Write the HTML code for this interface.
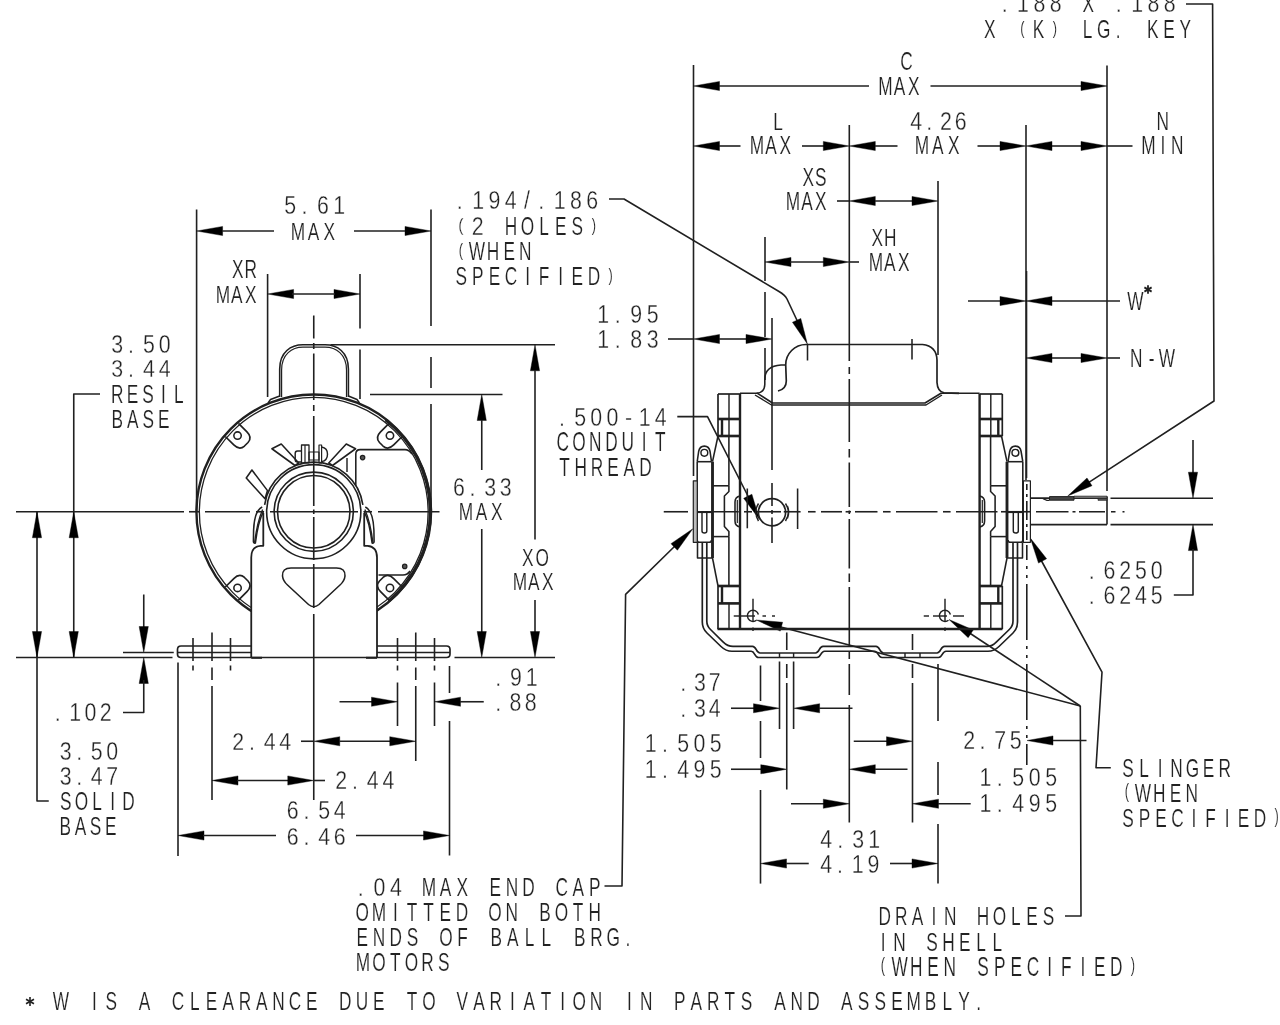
<!DOCTYPE html>
<html lang="en"><head><meta charset="utf-8"><title>Motor dimension drawing</title>
<style>
html,body{margin:0;padding:0;background:#fff}
body{width:1280px;height:1025px;overflow:hidden;font-family:"Liberation Sans",sans-serif}
svg{display:block;filter:blur(.4px)}
.g line,.g path,.g circle,.g rect{stroke:#202020;stroke-width:1.6;fill:none;stroke-linecap:butt;stroke-linejoin:round}
.g path.ah{fill:#000;stroke:#000;stroke-width:.4}
.t text{font-family:"Liberation Sans",sans-serif;font-size:24px;fill:#222;stroke:#fff;paint-order:fill stroke}
.t .d{stroke-width:.3px}
.t .a{stroke-width:.18px}
</style></head><body>
<svg width="1280" height="1025" viewBox="0 0 1280 1025">
<rect width="1280" height="1025" fill="#fff"/>
<g class="g">
<line x1="196.6" y1="209.5" x2="196.6" y2="512"/>
<line x1="431" y1="209.5" x2="431" y2="326"/>
<line x1="431" y1="357" x2="431" y2="388"/>
<line x1="431" y1="404" x2="431" y2="512"/>
<path class="ah" d="M196.60 231.00 L222.60 226.40 L222.60 235.60 Z"/>
<line x1="222" y1="231" x2="274" y2="231"/>
<path class="ah" d="M431.00 231.00 L405.00 235.60 L405.00 226.40 Z"/>
<line x1="354" y1="231" x2="405" y2="231"/>
<line x1="267.6" y1="274" x2="267.6" y2="397"/>
<line x1="360" y1="274" x2="360" y2="328.5"/>
<line x1="360" y1="349.5" x2="360" y2="399"/>
<path class="ah" d="M267.60 294.00 L293.60 289.40 L293.60 298.60 Z"/>
<path class="ah" d="M360.00 294.00 L334.00 298.60 L334.00 289.40 Z"/>
<line x1="292" y1="294" x2="335" y2="294"/>
<path d="M100 394 L73.75 394 L73.75 657.5"/>
<path class="ah" d="M73.75 511.75 L78.35 537.75 L69.15 537.75 Z"/>
<path class="ah" d="M73.75 657.50 L69.15 631.50 L78.35 631.50 Z"/>
<path d="M37 511.75 L37 801 L48.75 801"/>
<path class="ah" d="M37.00 511.75 L41.60 537.75 L32.40 537.75 Z"/>
<path class="ah" d="M37.00 657.50 L32.40 631.50 L41.60 631.50 Z"/>
<line x1="16" y1="511.75" x2="184" y2="511.75"/>
<line x1="16" y1="657.5" x2="172.5" y2="657.5"/>
<line x1="143.75" y1="594.5" x2="143.75" y2="630"/>
<path class="ah" d="M143.75 652.50 L139.15 626.50 L148.35 626.50 Z"/>
<line x1="123" y1="652.5" x2="173.75" y2="652.5"/>
<path class="ah" d="M143.75 657.50 L148.35 683.50 L139.15 683.50 Z"/>
<path d="M143.75 680 L143.75 712.5 L123 712.5"/>
<line x1="193" y1="638" x2="193" y2="661"/>
<line x1="212" y1="632.5" x2="212" y2="661"/>
<line x1="230.5" y1="638" x2="230.5" y2="661"/>
<line x1="397.5" y1="638" x2="397.5" y2="661"/>
<line x1="415.75" y1="632.5" x2="415.75" y2="661"/>
<line x1="434.5" y1="638" x2="434.5" y2="661"/>
<line x1="193" y1="665.5" x2="193" y2="670.5"/>
<line x1="230.5" y1="665.5" x2="230.5" y2="670.5"/>
<line x1="212" y1="667.5" x2="212" y2="680"/>
<line x1="212" y1="686" x2="212" y2="800"/>
<line x1="397.5" y1="665.5" x2="397.5" y2="670.5"/>
<line x1="397.5" y1="682.5" x2="397.5" y2="726"/>
<line x1="434.5" y1="665.5" x2="434.5" y2="670.5"/>
<line x1="434.5" y1="682.5" x2="434.5" y2="726"/>
<line x1="415.75" y1="667.5" x2="415.75" y2="680"/>
<line x1="415.75" y1="686" x2="415.75" y2="761"/>
<line x1="339.5" y1="701.75" x2="372" y2="701.75"/>
<path class="ah" d="M397.50 701.75 L371.50 706.35 L371.50 697.15 Z"/>
<path class="ah" d="M434.50 701.75 L460.50 697.15 L460.50 706.35 Z"/>
<line x1="460" y1="701.75" x2="483.75" y2="701.75"/>
<line x1="301" y1="741.25" x2="313.75" y2="741.25"/>
<path class="ah" d="M313.75 741.25 L339.75 736.65 L339.75 745.85 Z"/>
<line x1="339" y1="741.25" x2="391" y2="741.25"/>
<path class="ah" d="M415.75 741.25 L389.75 745.85 L389.75 736.65 Z"/>
<path class="ah" d="M212.00 780.50 L238.00 775.90 L238.00 785.10 Z"/>
<line x1="237" y1="780.5" x2="289" y2="780.5"/>
<path class="ah" d="M313.75 780.50 L287.75 785.10 L287.75 775.90 Z"/>
<line x1="313.75" y1="780.5" x2="325" y2="780.5"/>
<line x1="178" y1="662.5" x2="178" y2="856"/>
<line x1="449.5" y1="666" x2="449.5" y2="693"/>
<line x1="449.5" y1="721" x2="449.5" y2="855.5"/>
<path class="ah" d="M178.00 835.50 L204.00 830.90 L204.00 840.10 Z"/>
<line x1="203" y1="835.5" x2="276" y2="835.5"/>
<line x1="356" y1="835.5" x2="425" y2="835.5"/>
<path class="ah" d="M449.50 835.50 L423.50 840.10 L423.50 830.90 Z"/>
<line x1="370" y1="394.5" x2="502.5" y2="394.5"/>
<path class="ah" d="M481.75 394.50 L486.35 420.50 L477.15 420.50 Z"/>
<line x1="481.75" y1="420" x2="481.75" y2="470"/>
<line x1="481.75" y1="529" x2="481.75" y2="633"/>
<path class="ah" d="M481.75 657.50 L477.15 631.50 L486.35 631.50 Z"/>
<line x1="330.5" y1="344.8" x2="555" y2="344.8"/>
<path class="ah" d="M535.00 344.80 L539.60 370.80 L530.40 370.80 Z"/>
<line x1="535" y1="370" x2="535" y2="539.5"/>
<line x1="535" y1="600" x2="535" y2="633"/>
<path class="ah" d="M535.00 657.50 L530.40 631.50 L539.60 631.50 Z"/>
<line x1="454.5" y1="657.5" x2="555" y2="657.5"/>
<circle cx="313.75" cy="511.75" r="117.3" style="stroke-width:2.40"/>
<circle cx="313.75" cy="511.75" r="114.4" style="stroke-width:1.32"/>
<path d="M385.54 419.87 A116.6 116.6 0 0 1 388.70 601.07" style="stroke-width:3.12"/>
<path d="M279.7 397 L279.7 369 C279.7 352 291 344.8 303 344.8 L325 344.8 C337 344.8 348.4 352 348.4 369 L348.4 397"/>
<path d="M281.6 397 L281.6 370 C281.6 354 292 347.2 303 347.2 L325 347.2 C336 347.2 346.5 354 346.5 370 L346.5 397" style="stroke-width:1.20"/>
<path d="M279.7 396 L270.5 399.5 L268 403" style="stroke-width:1.44"/>
<path d="M348.4 396 L357 399.5 L359.5 403" style="stroke-width:1.44"/>
<circle cx="237.55" cy="435.55" r="3.7" style="stroke-width:1.56"/>
<path d="M238.47 423.32 L246.95 431.80 Q252.61 437.46 248.02 442.48 L244.48 446.02 Q239.46 450.61 233.80 444.95 L225.32 436.47" style="stroke-width:1.68"/>
<circle cx="389.95" cy="435.55" r="3.7" style="stroke-width:1.56"/>
<path d="M402.18 436.47 L393.70 444.95 Q388.04 450.61 383.02 446.02 L379.48 442.48 Q374.89 437.46 380.55 431.80 L389.03 423.32" style="stroke-width:1.68"/>
<circle cx="237.55" cy="587.95" r="3.7" style="stroke-width:1.56"/>
<path d="M225.32 587.03 L233.80 578.55 Q239.46 572.89 244.48 577.48 L248.02 581.02 Q252.61 586.04 246.95 591.70 L238.47 600.18" style="stroke-width:1.68"/>
<circle cx="389.95" cy="587.95" r="3.7" style="stroke-width:1.56"/>
<path d="M389.03 600.18 L380.55 591.70 Q374.89 586.04 379.48 581.02 L383.02 577.48 Q388.04 572.89 393.70 578.55 L402.18 587.03" style="stroke-width:1.68"/>
<path d="M263.3 513 L263.3 545.8 L260.5 545.8 Q251.25 546.5 251.25 557.5 L251.25 657.5 L377 657.5 L377 557.5 Q377 546.5 367.5 545.8 L364.2 545.8 L364.2 513 Z" style="stroke-width:0;fill:#fff"/>
<circle cx="313.75" cy="511.75" r="36.2"/>
<circle cx="313.75" cy="511.75" r="39.6"/>
<circle cx="313.75" cy="511.75" r="47.1"/>
<path d="M264.63 504.85 A49.6 49.6 0 0 1 362.87 504.85"/>
<path d="M271.9 448.75 L281.25 444 L298.75 463 L295 465.5 Z" style="stroke-width:1.56"/>
<path d="M355.6 448.75 L346.25 444 L328.75 463 L332.5 465.5 Z" style="stroke-width:1.56"/>
<path d="M246.25 478 L251.9 470 L267.5 490.6 L265 498.75 Z" style="stroke-width:1.56"/>
<path d="M301.5 451 L297.5 451 Q295.2 451 295.2 453.5 L295.2 459.5 Q295.2 462 297.5 462 L301.5 462" style="stroke-width:1.44"/>
<rect x="301.5" y="445" width="7.5" height="17.8" style="stroke-width:1.3"/>
<line x1="305" y1="445" x2="305" y2="462.8" style="stroke-width:1.20"/>
<rect x="309" y="452" width="10" height="8" style="stroke-width:1.2"/>
<rect x="319" y="445" width="2.6" height="17.8" style="stroke-width:1.2"/>
<path d="M321.6 447 Q327.5 448 327.5 454.2 Q327.5 460.5 321.6 461.6" style="stroke-width:1.44"/>
<path d="M355.8 486 L355.8 454 Q355.8 449.6 360.2 449.6 L405 449.6 Q409 449.6 412 454" style="stroke-width:1.56"/>
<line x1="347" y1="458" x2="347" y2="472" style="stroke-width:1.44"/>
<path d="M378.5 575 L403 575 Q407.5 575 410 571" style="stroke-width:1.56"/>
<circle cx="362.6" cy="457.6" r="2.2" style="stroke-width:1.20;fill:#555"/>
<circle cx="404.7" cy="566.4" r="2.2" style="stroke-width:1.20;fill:#555"/>
<path d="M262.2 507 C256 510 254 520 253.6 530 L253.4 541.5 Q253.6 543.6 255.4 543 C257 530 260 518 263.6 511" style="stroke-width:1.56"/>
<path d="M262.6 509.5 C258.5 519 256 531 254.6 542.5" style="stroke-width:1.32"/>
<path d="M365.3 507 C371.5 510 373.5 520 373.9 530 L374.1 541.5 Q373.9 543.6 372.1 543 C370.5 530 367.5 518 363.9 511" style="stroke-width:1.56"/>
<path d="M364.9 509.5 C369 519 371.5 531 372.9 542.5" style="stroke-width:1.32"/>
<path d="M263.3 513 L263.3 545.8 L260.5 545.8 Q251.25 546.5 251.25 557.5 L251.25 657.5" style="stroke-width:1.80"/>
<path d="M364.2 513 L364.2 545.8 L367.5 545.8 Q377 546.5 377 557.5 L377 657.5" style="stroke-width:1.80"/>
<line x1="251.25" y1="657.5" x2="377" y2="657.5" style="stroke-width:1.68"/>
<path d="M251.25 657.8 L262 657.8" style="stroke-width:2.04"/>
<path d="M366 657.8 L377 657.8" style="stroke-width:2.04"/>
<path d="M291 568 L336.5 568 Q345.5 568 345 576 Q344.5 581 340 585 L319 604.5 Q313.75 609 308.5 604.5 L287.5 585 Q283 581 282.5 576 Q282 568 291 568 Z" style="stroke-width:1.56"/>
<path d="M251.25 646 L181 646 Q177.5 646 177.5 649.5 L177.5 654 Q177.5 657.5 181 657.5 L251.25 657.5" style="stroke-width:1.68"/>
<line x1="177.5" y1="652.5" x2="251.25" y2="652.5" style="stroke-width:1.44"/>
<path d="M377 646 L446.5 646 Q450 646 450 649.5 L450 654 Q450 657.5 446.5 657.5 L377 657.5" style="stroke-width:1.68"/>
<line x1="377" y1="652.5" x2="450" y2="652.5" style="stroke-width:1.44"/>
<line x1="189" y1="511.75" x2="199" y2="511.75"/>
<line x1="205" y1="511.75" x2="250" y2="511.75"/>
<line x1="256" y1="511.75" x2="264" y2="511.75"/>
<line x1="270" y1="511.75" x2="358" y2="511.75"/>
<line x1="364" y1="511.75" x2="372" y2="511.75"/>
<line x1="378" y1="511.75" x2="439.5" y2="511.75"/>
<line x1="313.75" y1="315.5" x2="313.75" y2="338.5"/>
<line x1="313.75" y1="343" x2="313.75" y2="349"/>
<line x1="313.75" y1="353.5" x2="313.75" y2="400"/>
<line x1="313.75" y1="405" x2="313.75" y2="411"/>
<line x1="313.75" y1="416" x2="313.75" y2="506"/>
<line x1="313.75" y1="509.5" x2="313.75" y2="514"/>
<line x1="313.75" y1="517" x2="313.75" y2="560"/>
<line x1="313.75" y1="564" x2="313.75" y2="608"/>
<line x1="313.75" y1="614" x2="313.75" y2="800"/>
<line x1="693.5" y1="65" x2="693.5" y2="476"/>
<line x1="1107" y1="65.5" x2="1107" y2="491"/>
<path class="ah" d="M693.50 86.00 L719.50 81.40 L719.50 90.60 Z"/>
<line x1="719" y1="86" x2="869" y2="86"/>
<line x1="930.5" y1="86" x2="1082" y2="86"/>
<path class="ah" d="M1107.00 86.00 L1081.00 90.60 L1081.00 81.40 Z"/>
<path class="ah" d="M693.50 146.00 L719.50 141.40 L719.50 150.60 Z"/>
<line x1="719" y1="146" x2="740.5" y2="146"/>
<line x1="802" y1="146" x2="825" y2="146"/>
<path class="ah" d="M849.30 146.00 L823.30 150.60 L823.30 141.40 Z"/>
<line x1="849.3" y1="125" x2="849.3" y2="361"/>
<line x1="849.3" y1="367" x2="849.3" y2="374"/>
<line x1="849.3" y1="379" x2="849.3" y2="442"/>
<line x1="849.3" y1="449" x2="849.3" y2="457.5"/>
<line x1="849.3" y1="462.5" x2="849.3" y2="507"/>
<line x1="849.3" y1="510.5" x2="849.3" y2="514"/>
<line x1="849.3" y1="519" x2="849.3" y2="568.5"/>
<line x1="849.3" y1="573.5" x2="849.3" y2="582"/>
<line x1="849.3" y1="587" x2="849.3" y2="647"/>
<line x1="849.3" y1="652" x2="849.3" y2="659"/>
<line x1="849.3" y1="664" x2="849.3" y2="695"/>
<line x1="849.3" y1="705" x2="849.3" y2="822.5"/>
<path class="ah" d="M849.30 146.00 L875.30 141.40 L875.30 150.60 Z"/>
<line x1="875" y1="146" x2="897.5" y2="146"/>
<line x1="977.5" y1="146" x2="1001" y2="146"/>
<path class="ah" d="M1026.00 146.00 L1000.00 150.60 L1000.00 141.40 Z"/>
<line x1="1026" y1="125" x2="1026" y2="480"/>
<line x1="1026.6" y1="271" x2="1026.6" y2="478" style="stroke-width:1.44"/>
<line x1="1026.8" y1="484" x2="1026.8" y2="490"/>
<line x1="1026.8" y1="494" x2="1026.8" y2="497"/>
<line x1="1026.8" y1="501" x2="1026.8" y2="520"/>
<line x1="1026.8" y1="524" x2="1026.8" y2="527"/>
<line x1="1026.8" y1="531" x2="1026.8" y2="540"/>
<line x1="1026.8" y1="545" x2="1026.8" y2="560"/>
<line x1="1026.8" y1="566" x2="1026.8" y2="569"/>
<line x1="1026.8" y1="575" x2="1026.8" y2="578"/>
<line x1="1026.8" y1="584" x2="1026.8" y2="640"/>
<line x1="1026.8" y1="646" x2="1026.8" y2="649"/>
<line x1="1026.8" y1="655" x2="1026.8" y2="658"/>
<line x1="1026.8" y1="664" x2="1026.8" y2="720"/>
<line x1="1026.8" y1="726" x2="1026.8" y2="729"/>
<line x1="1026.8" y1="735" x2="1026.8" y2="738"/>
<line x1="1026.8" y1="744" x2="1026.8" y2="765"/>
<path class="ah" d="M1026.00 146.00 L1052.00 141.40 L1052.00 150.60 Z"/>
<line x1="1052" y1="146" x2="1082" y2="146"/>
<path class="ah" d="M1107.00 146.00 L1081.00 150.60 L1081.00 141.40 Z"/>
<line x1="1107" y1="146" x2="1132.5" y2="146"/>
<line x1="837" y1="201" x2="849.3" y2="201"/>
<path class="ah" d="M849.30 201.00 L875.30 196.40 L875.30 205.60 Z"/>
<line x1="875" y1="201" x2="913" y2="201"/>
<path class="ah" d="M938.00 201.00 L912.00 205.60 L912.00 196.40 Z"/>
<line x1="938" y1="181" x2="938" y2="355"/>
<line x1="765" y1="237" x2="765" y2="281"/>
<line x1="765" y1="292" x2="765" y2="337"/>
<line x1="765" y1="348" x2="765" y2="380"/>
<path class="ah" d="M765.00 262.00 L791.00 257.40 L791.00 266.60 Z"/>
<line x1="790" y1="262" x2="825" y2="262"/>
<path class="ah" d="M849.30 262.00 L823.30 266.60 L823.30 257.40 Z"/>
<line x1="849.3" y1="262" x2="859" y2="262"/>
<line x1="668" y1="339" x2="693.5" y2="339"/>
<path class="ah" d="M693.50 339.00 L719.50 334.40 L719.50 343.60 Z"/>
<line x1="719" y1="339" x2="748" y2="339"/>
<path class="ah" d="M772.00 339.00 L746.00 343.60 L746.00 334.40 Z"/>
<line x1="772" y1="318" x2="772" y2="470"/>
<line x1="772" y1="483" x2="772" y2="506"/>
<line x1="772" y1="510" x2="772" y2="514"/>
<line x1="772" y1="517.5" x2="772" y2="543"/>
<path d="M609 199 L624 199 L779 291.5 Q785 295 787 299 L802 331"/>
<path class="ah" d="M807.40 344.00 L792.44 322.24 L800.81 318.43 Z"/>
<line x1="968" y1="301" x2="1001" y2="301"/>
<path class="ah" d="M1026.00 301.00 L1000.00 305.60 L1000.00 296.40 Z"/>
<path class="ah" d="M1026.00 301.00 L1052.00 296.40 L1052.00 305.60 Z"/>
<line x1="1052" y1="301" x2="1120" y2="301"/>
<path class="ah" d="M1026.00 358.00 L1052.00 353.40 L1052.00 362.60 Z"/>
<line x1="1052" y1="358" x2="1082" y2="358"/>
<path class="ah" d="M1107.00 358.00 L1081.00 362.60 L1081.00 353.40 Z"/>
<line x1="1107" y1="358" x2="1120" y2="358"/>
<path d="M1186 4 L1212.6 4 L1214 401 L1085 484.8"/>
<path class="ah" d="M1067.70 496.00 L1087.00 477.98 L1092.01 485.70 Z"/>
<line x1="1110.5" y1="498.2" x2="1213" y2="498.2"/>
<line x1="1110.5" y1="524.6" x2="1213" y2="524.6"/>
<line x1="1193" y1="440" x2="1193" y2="475"/>
<path class="ah" d="M1193.00 498.20 L1188.40 472.20 L1197.60 472.20 Z"/>
<path class="ah" d="M1193.00 524.60 L1197.60 550.60 L1188.40 550.60 Z"/>
<path d="M1193 549 L1193 595 L1173.8 595"/>
<path d="M677.3 416.6 L707.5 416.6 L751 502"/>
<path class="ah" d="M759.50 519.50 L743.67 498.37 L751.88 494.22 Z"/>
<path d="M604.5 886 L622 886 L625.6 594.4 L676 545"/>
<path class="ah" d="M692.80 528.80 L677.41 550.25 L670.98 543.67 Z"/>
<line x1="731" y1="708.25" x2="754" y2="708.25"/>
<path class="ah" d="M779.50 708.25 L753.50 712.85 L753.50 703.65 Z"/>
<path class="ah" d="M793.60 708.25 L819.60 703.65 L819.60 712.85 Z"/>
<line x1="819" y1="708.25" x2="852.5" y2="708.25"/>
<line x1="779.5" y1="661.5" x2="779.5" y2="729"/>
<line x1="793.6" y1="661.5" x2="793.6" y2="729"/>
<line x1="731" y1="769.25" x2="761" y2="769.25"/>
<path class="ah" d="M786.75 769.25 L760.75 773.85 L760.75 764.65 Z"/>
<path class="ah" d="M849.30 769.25 L875.30 764.65 L875.30 773.85 Z"/>
<line x1="875" y1="769.25" x2="907.5" y2="769.25"/>
<line x1="786.75" y1="632.5" x2="786.75" y2="650"/>
<line x1="786.75" y1="664" x2="786.75" y2="678"/>
<line x1="786.75" y1="683" x2="786.75" y2="789.5"/>
<line x1="853.75" y1="741.25" x2="887" y2="741.25"/>
<path class="ah" d="M912.50 741.25 L886.50 745.85 L886.50 736.65 Z"/>
<path class="ah" d="M1027.00 740.50 L1053.00 735.90 L1053.00 745.10 Z"/>
<line x1="1053" y1="740.5" x2="1086.5" y2="740.5"/>
<line x1="912.5" y1="634" x2="912.5" y2="650"/>
<line x1="912.5" y1="664" x2="912.5" y2="678"/>
<line x1="912.5" y1="683" x2="912.5" y2="822.5"/>
<line x1="791" y1="803.75" x2="824" y2="803.75"/>
<path class="ah" d="M849.30 803.75 L823.30 808.35 L823.30 799.15 Z"/>
<path class="ah" d="M912.50 803.75 L938.50 799.15 L938.50 808.35 Z"/>
<line x1="938" y1="803.75" x2="970.7" y2="803.75"/>
<line x1="760.5" y1="665.5" x2="760.5" y2="701"/>
<line x1="760.5" y1="721" x2="760.5" y2="758"/>
<line x1="760.5" y1="790" x2="760.5" y2="883.6"/>
<line x1="938" y1="664" x2="938" y2="721"/>
<line x1="938" y1="762" x2="938" y2="795"/>
<line x1="938" y1="824" x2="938" y2="883.6"/>
<path class="ah" d="M760.50 863.50 L786.50 858.90 L786.50 868.10 Z"/>
<line x1="786" y1="863.5" x2="808.75" y2="863.5"/>
<line x1="890" y1="863.5" x2="913" y2="863.5"/>
<path class="ah" d="M938.00 863.50 L912.00 868.10 L912.00 858.90 Z"/>
<path d="M1065 916 L1081 916 L1080.3 706"/>
<path d="M1080.3 706 L968 632"/>
<path class="ah" d="M949.00 619.50 L973.24 629.96 L968.18 637.65 Z"/>
<path d="M1080.3 706 L778 626.2"/>
<path class="ah" d="M756.30 620.00 L782.61 622.22 L780.25 631.12 Z"/>
<path d="M1041 560 L1102 672.2 L1096 767.8 L1110.8 767.8"/>
<path class="ah" d="M1030.30 538.00 L1046.61 558.76 L1038.49 563.10 Z"/>
<line x1="663.75" y1="511.75" x2="688" y2="511.75"/>
<line x1="697.5" y1="511.75" x2="738.75" y2="511.75"/>
<line x1="744" y1="511.75" x2="752" y2="511.75"/>
<line x1="757" y1="511.75" x2="781" y2="511.75"/>
<line x1="783.75" y1="511.75" x2="800.6" y2="511.75"/>
<line x1="808" y1="511.75" x2="815.6" y2="511.75"/>
<line x1="821" y1="511.75" x2="842" y2="511.75"/>
<line x1="845.6" y1="511.75" x2="851" y2="511.75"/>
<line x1="855" y1="511.75" x2="877.5" y2="511.75"/>
<line x1="883" y1="511.75" x2="890.6" y2="511.75"/>
<line x1="896" y1="511.75" x2="937.5" y2="511.75"/>
<line x1="943" y1="511.75" x2="950.6" y2="511.75"/>
<line x1="956" y1="511.75" x2="997.5" y2="511.75"/>
<line x1="1001" y1="511.75" x2="1030" y2="511.75"/>
<line x1="740" y1="394" x2="740" y2="629" style="stroke-width:2.40"/>
<line x1="979.6" y1="394" x2="979.6" y2="629" style="stroke-width:2.40"/>
<line x1="717.5" y1="629" x2="1002.5" y2="629" style="stroke-width:2.40"/>
<path d="M740 393.3 L757.5 393.3 L772.5 403 L925 403 L941 393.3 L979.6 393.3"/>
<path d="M785.7 365 L781 365 Q765.2 366 764.8 379 L764.8 384.5 Q764.5 392.8 756.6 393.2" style="stroke-width:1.56"/>
<path d="M755 395 L771.5 405 L926 405 L942 395" style="stroke-width:1.44"/>
<path d="M778 391 Q786.3 389 786.3 381 L785.7 364.9 A20.3 20.3 0 0 1 806 344.5 L922.5 344.5 Q936.5 346 937 360 L937 382.5 Q937.5 391.5 944 392.8 L959 393.3" style="stroke-width:1.68"/>
<line x1="807.5" y1="344.5" x2="807.5" y2="360.5" style="stroke-width:1.56"/>
<line x1="912" y1="339" x2="912" y2="359.5" style="stroke-width:1.56"/>
<line x1="718" y1="394" x2="718" y2="436" style="stroke-width:1.68"/>
<line x1="729" y1="394" x2="729" y2="436" style="stroke-width:1.44"/>
<line x1="718" y1="394" x2="740" y2="394" style="stroke-width:1.68"/>
<line x1="718" y1="419" x2="740" y2="419" style="stroke-width:2.64"/>
<line x1="718" y1="436" x2="740" y2="436" style="stroke-width:2.64"/>
<line x1="722" y1="419" x2="722" y2="436" style="stroke-width:2.40"/>
<line x1="718" y1="586" x2="740" y2="586" style="stroke-width:2.64"/>
<line x1="718" y1="603.4" x2="740" y2="603.4" style="stroke-width:2.64"/>
<line x1="722" y1="586" x2="722" y2="603.4" style="stroke-width:2.40"/>
<line x1="718" y1="586" x2="718" y2="629" style="stroke-width:1.68"/>
<line x1="729" y1="603.4" x2="729" y2="629" style="stroke-width:1.44"/>
<line x1="1002.3" y1="394" x2="1002.3" y2="436" style="stroke-width:1.68"/>
<line x1="990.8" y1="394" x2="990.8" y2="436" style="stroke-width:1.44"/>
<line x1="979.6" y1="394" x2="1002.3" y2="394" style="stroke-width:1.68"/>
<line x1="979.6" y1="419" x2="1002.3" y2="419" style="stroke-width:2.64"/>
<line x1="979.6" y1="436" x2="1002.3" y2="436" style="stroke-width:2.64"/>
<line x1="998.3" y1="419" x2="998.3" y2="436" style="stroke-width:2.40"/>
<line x1="979.6" y1="586" x2="1002.3" y2="586" style="stroke-width:2.64"/>
<line x1="979.6" y1="603.4" x2="1002.3" y2="603.4" style="stroke-width:2.64"/>
<line x1="998.3" y1="586" x2="998.3" y2="603.4" style="stroke-width:2.40"/>
<line x1="1002.3" y1="586" x2="1002.3" y2="629" style="stroke-width:1.68"/>
<line x1="990.8" y1="603.4" x2="990.8" y2="629" style="stroke-width:1.44"/>
<line x1="718" y1="436" x2="712.5" y2="461.7" style="stroke-width:1.56"/>
<line x1="712.5" y1="558" x2="718" y2="586" style="stroke-width:1.56"/>
<line x1="712.5" y1="461.7" x2="712.5" y2="558" style="stroke-width:2.88"/>
<line x1="728.9" y1="436" x2="728.9" y2="485.8" style="stroke-width:1.56"/>
<line x1="712.5" y1="485.8" x2="728.9" y2="485.8" style="stroke-width:1.56"/>
<path d="M728.9 485.8 L728.9 491.5 L724.4 496 L724.4 526.4 L728.9 531.5 L728.9 536.6" style="stroke-width:1.56"/>
<line x1="712.5" y1="536.6" x2="728.9" y2="536.6" style="stroke-width:1.56"/>
<line x1="728.9" y1="536.6" x2="728.9" y2="586" style="stroke-width:1.56"/>
<line x1="1001.5" y1="436" x2="1007" y2="461.7" style="stroke-width:1.56"/>
<line x1="1007" y1="558" x2="1001.5" y2="586" style="stroke-width:1.56"/>
<line x1="1007" y1="461.7" x2="1007" y2="558" style="stroke-width:2.88"/>
<line x1="990.6" y1="436" x2="990.6" y2="485.8" style="stroke-width:1.56"/>
<line x1="1007" y1="485.8" x2="990.6" y2="485.8" style="stroke-width:1.56"/>
<path d="M990.6 485.8 L990.6 491.5 L995.1 496 L995.1 526.4 L990.6 531.5 L990.6 536.6" style="stroke-width:1.56"/>
<line x1="1007" y1="536.6" x2="990.6" y2="536.6" style="stroke-width:1.56"/>
<line x1="990.6" y1="536.6" x2="990.6" y2="586" style="stroke-width:1.56"/>
<path d="M740 496 Q735 497 735 502 L735 521 Q735 526 740 527" style="stroke-width:1.56"/>
<line x1="737.3" y1="500" x2="737.3" y2="523" style="stroke-width:1.20"/>
<path d="M979.6 496 Q984.6 497 984.6 502 L984.6 521 Q984.6 526 979.6 527" style="stroke-width:1.56"/>
<line x1="982.3" y1="500" x2="982.3" y2="523" style="stroke-width:1.20"/>
<line x1="747.3" y1="488.5" x2="747.3" y2="528.3" style="stroke-width:1.56"/>
<path d="M697.2 461.7 L698.65 451.5 A5.8 6.6 0 0 1 710.0500000000001 451.5 L711.5 461.7" style="stroke-width:1.56"/>
<line x1="697.2" y1="461.7" x2="711.5" y2="461.7" style="stroke-width:1.56"/>
<circle cx="704.35" cy="452.8" r="3.4" style="stroke-width:1.44"/>
<path d="M1008 461.7 L1009.6999999999999 451.5 A5.8 6.6 0 0 1 1021.1 451.5 L1022.8 461.7" style="stroke-width:1.56"/>
<line x1="1008" y1="461.7" x2="1022.8" y2="461.7" style="stroke-width:1.56"/>
<circle cx="1015.4" cy="452.8" r="3.4" style="stroke-width:1.44"/>
<path d="M697.2 461.7 L697.2 540 Q697.2 542.3 699.5 542.3 L709 542.3 Q711.5 542.3 711.5 540" style="stroke-width:1.56"/>
<path d="M1022.8 461.7 L1022.8 540 Q1022.8 542.3 1020.5 542.3 L1010.5 542.3 Q1008 542.3 1008 540" style="stroke-width:1.56"/>
<line x1="697.2" y1="512.3" x2="712.5" y2="512.3" style="stroke-width:1.56"/>
<line x1="1007" y1="512.3" x2="1022.8" y2="512.3" style="stroke-width:1.56"/>
<path d="M702 512.3 L702 531 Q702 533 704.4 533 Q706.8 533 706.8 531 L706.8 512.3" style="stroke-width:1.44"/>
<path d="M1013.3 512.3 L1013.3 531 Q1013.3 533 1015.8 533 Q1018.3 533 1018.3 531 L1018.3 512.3" style="stroke-width:1.44"/>
<rect x="693.3" y="480.8" width="4" height="61.5" style="stroke-width:1.2;fill:#bbb"/>
<rect x="1023.4" y="480.8" width="7" height="61.5" style="stroke-width:1.2"/>
<path d="M697.5 542.3 L697.5 558 L712.5 558" style="stroke-width:1.56"/>
<path d="M1022.5 542.3 L1022.5 558 L1007 558" style="stroke-width:1.56"/>
<path d="M702.3 542.3 L702.3 622 Q702.3 628.5 707 633 L721 646.5 Q726 651.25 732 651.25 L751.25 651.25 C755 651.25 754.5 657.5 758.5 657.5 L817 657.5 C821 657.5 820.5 651.25 824.5 651.25 L874.5 651.25 C878.5 651.25 878 657.5 882 657.5 L938.5 657.5 C942.5 657.5 942 651.25 946 651.25 L988 651.25 Q994 651.25 999 646.5 L1013 633 Q1017.5 628.5 1017.5 622 L1017.5 542.3" style="stroke-width:1.68"/>
<path d="M706.8 542.3 L706.8 621 Q706.8 626 710.5 629.5 L723 641.8 Q727.7 646.4 733 646.4 L752.5 646.4 C756.5 646.4 756 653 760 653 L815.5 653 C819.5 653 819 646.4 823 646.4 L876 646.4 C880 646.4 879.5 653 883.5 653 L937 653 C941 653 940.5 646.4 944.5 646.4 L987 646.4 Q992 646.4 996.5 641.8 L1009.3 629.5 Q1013 626 1013 621 L1013 542.3" style="stroke-width:1.68"/>
<line x1="779.5" y1="653" x2="779.5" y2="657.5" style="stroke-width:1.44"/>
<line x1="793.6" y1="653" x2="793.6" y2="657.5" style="stroke-width:1.44"/>
<line x1="905" y1="653" x2="905" y2="657.5" style="stroke-width:1.44"/>
<line x1="920" y1="653" x2="920" y2="657.5" style="stroke-width:1.44"/>
<circle cx="772" cy="512.2" r="13.6" style="stroke-width:1.68"/>
<path d="M758.5 503.5 A16 16 0 0 0 758.5 521" style="stroke-width:1.44"/>
<path d="M785.5 503.5 A16 16 0 0 1 785.5 521" style="stroke-width:1.44"/>
<path d="M787.5 506 A16.5 16.5 0 0 1 787.5 518.5" style="stroke-width:1.20"/>
<line x1="797.6" y1="488.5" x2="797.6" y2="529" style="stroke-width:1.56"/>
<path d="M756.5 620.2 A5.6 5.6 0 1 1 758.4 614.5" style="stroke-width:1.44"/>
<line x1="753" y1="598.75" x2="753" y2="621.5" style="stroke-width:1.44"/>
<line x1="753" y1="627.5" x2="753" y2="631" style="stroke-width:1.44"/>
<path d="M948.5 620.2 A5.6 5.6 0 1 1 950.4 614.5" style="stroke-width:1.44"/>
<line x1="945" y1="598.75" x2="945" y2="621.5" style="stroke-width:1.44"/>
<line x1="945" y1="627.5" x2="945" y2="631" style="stroke-width:1.44"/>
<line x1="733.75" y1="616" x2="755" y2="616" style="stroke-width:1.44"/>
<line x1="762.5" y1="616" x2="766" y2="616" style="stroke-width:1.44"/>
<line x1="772" y1="616" x2="775" y2="616" style="stroke-width:1.44"/>
<line x1="923.75" y1="616" x2="929" y2="616" style="stroke-width:1.44"/>
<line x1="933" y1="616" x2="947" y2="616" style="stroke-width:1.44"/>
<line x1="953" y1="616" x2="964" y2="616" style="stroke-width:1.44"/>
<line x1="1030.4" y1="498.2" x2="1107" y2="498.2" style="stroke-width:1.68"/>
<line x1="1030.4" y1="524.6" x2="1107" y2="524.6" style="stroke-width:1.68"/>
<line x1="1107" y1="496.4" x2="1107" y2="524.6"/>
<rect x="1049.5" y="496.6" width="24.5" height="3.6" style="stroke-width:1;fill:#444"/>
<rect x="1074" y="496.2" width="33" height="2" style="stroke-width:0.8;fill:#888"/>
<rect x="1098" y="498.4" width="9" height="2" style="stroke-width:0.6;fill:#555"/>
<path d="M1043 498.8 L1047 500.4 L1049.5 500.4" style="stroke-width:1.20"/>
<line x1="1036" y1="511.75" x2="1068.5" y2="511.75" style="stroke-width:1.56"/>
<line x1="1072.5" y1="511.75" x2="1075.5" y2="511.75" style="stroke-width:1.56"/>
<line x1="1079" y1="511.75" x2="1105" y2="511.75" style="stroke-width:1.56"/>
<line x1="1111" y1="511.75" x2="1115.5" y2="511.75" style="stroke-width:1.56"/>
<line x1="1122.5" y1="511.75" x2="1124.5" y2="511.75" style="stroke-width:1.56"/>
<line x1="1148" y1="285.3" x2="1148" y2="293.7" style="stroke-width:1.80"/>
<line x1="1144.36" y1="287.4" x2="1151.64" y2="291.6" style="stroke-width:1.80"/>
<line x1="1151.64" y1="287.4" x2="1144.36" y2="291.6" style="stroke-width:1.80"/>
<line x1="30" y1="996.9" x2="30" y2="1006.1"/>
<line x1="26.0163" y1="999.2" x2="33.9837" y2="1003.8"/>
<line x1="33.9837" y1="999.2" x2="26.0163" y2="1003.8"/>
</g>
<g class="t" style="opacity:.999">
<text class="d" transform="translate(0 214.00) scale(0.890 1.048)" x="319.5 338.9 356.2 374.5">5.61</text>
<text class="a" transform="translate(0 239.50) scale(0.720 0.987)" x="403.9 427.6 449.3">MAX</text>
<text class="a" transform="translate(0 277.50) scale(0.720 1.048)" x="322.2 339.6">XR</text>
<text class="a" transform="translate(0 303.00) scale(0.720 0.987)" x="299.7 321.0 340.3">MAX</text>
<text class="d" transform="translate(0 352.50) scale(0.890 1.048)" x="125.1 143.9 160.7 178.5">3.50</text>
<text class="d" transform="translate(0 377.00) scale(0.890 1.017)" x="125.1 143.9 160.7 178.5">3.44</text>
<text class="a" transform="translate(0 402.50) scale(0.720 1.048)" x="154.2 176.2 197.6 223.6 241.6">RESIL</text>
<text class="a" transform="translate(0 427.50) scale(0.720 1.048)" x="154.8 176.4 197.9 219.4">BASE</text>
<text class="d" transform="translate(0 759.50) scale(0.890 1.048)" x="67.2 85.7 102.1 119.5">3.50</text>
<text class="d" transform="translate(0 785.00) scale(0.890 1.078)" x="67.2 85.7 102.1 119.5">3.47</text>
<text class="a" transform="translate(0 810.00) scale(0.720 1.078)" x="83.3 103.8 128.2 153.3 169.8">SOLID</text>
<text class="a" transform="translate(0 835.00) scale(0.720 1.078)" x="82.6 103.7 124.8 145.8">BASE</text>
<text class="d" transform="translate(0 721.00) scale(0.890 1.048)" x="61.5 77.7 94.9 112.2">.102</text>
<text class="d" transform="translate(0 686.00) scale(0.890 1.048)" x="556.5 573.1 590.8">.91</text>
<text class="d" transform="translate(0 710.50) scale(0.890 1.063)" x="556.5 572.6 589.7">.88</text>
<text class="d" transform="translate(0 750.00) scale(0.890 1.033)" x="261.0 279.7 296.3 313.9">2.44</text>
<text class="d" transform="translate(0 789.00) scale(0.890 1.048)" x="376.8 395.5 412.2 429.9">2.44</text>
<text class="d" transform="translate(0 819.00) scale(0.890 1.048)" x="322.3 340.9 357.5 375.1">6.54</text>
<text class="d" transform="translate(0 845.00) scale(0.890 1.017)" x="322.3 340.9 357.5 375.1">6.46</text>
<text class="d" transform="translate(0 495.50) scale(0.890 1.048)" x="509.1 527.6 544.1 561.6">6.33</text>
<text class="a" transform="translate(0 519.50) scale(0.720 0.987)" x="637.2 660.6 681.9">MAX</text>
<text class="a" transform="translate(0 565.50) scale(0.720 0.987)" x="725.0 743.8">XO</text>
<text class="a" transform="translate(0 590.00) scale(0.720 1.017)" x="712.2 733.5 752.8">MAX</text>
<text class="a" transform="translate(0 69.50) scale(0.720 1.078)" x="1250.4">C</text>
<text class="a" transform="translate(0 94.50) scale(0.720 1.048)" x="1219.9 1241.5 1261.1">MAX</text>
<text class="a" transform="translate(0 130.00) scale(0.720 1.017)" x="1073.9">L</text>
<text class="a" transform="translate(0 154.00) scale(0.720 1.048)" x="1041.4 1063.0 1082.6">MAX</text>
<text class="d" transform="translate(0 130.00) scale(0.890 1.078)" x="1022.8 1040.6 1056.2 1072.8">4.26</text>
<text class="a" transform="translate(0 154.00) scale(0.720 1.048)" x="1270.6 1294.6 1316.7">MAX</text>
<text class="a" transform="translate(0 130.00) scale(0.720 1.078)" x="1606.3">N</text>
<text class="a" transform="translate(0 154.00) scale(0.720 1.048)" x="1585.1 1611.8 1626.4">MIN</text>
<text class="a" transform="translate(0 185.50) scale(0.720 1.048)" x="1114.6 1131.9">XS</text>
<text class="a" transform="translate(0 210.00) scale(0.720 1.078)" x="1091.4 1112.7 1131.9">MAX</text>
<text class="a" transform="translate(0 245.50) scale(0.720 1.017)" x="1210.4 1227.8">XH</text>
<text class="a" transform="translate(0 270.50) scale(0.720 1.048)" x="1206.7 1227.9 1247.2">MAX</text>
<text class="d" transform="translate(0 322.50) scale(0.890 1.048)" x="671.2 690.8 708.2 726.8">1.95</text>
<text class="d" transform="translate(0 347.50) scale(0.890 1.048)" x="671.2 690.8 708.2 726.8">1.83</text>
<text class="d" transform="translate(0 208.50) scale(0.890 1.048)" x="513.2 530.5 548.8 567.2 588.8 604.9 622.1 640.5 658.8">.194/.186</text>
<text class="d" transform="translate(0 234.50) scale(0.890 1.078)" x="515.0 530.0"><tspan font-size="17.8" dy="-3.47">(</tspan><tspan dy="3.47">2</tspan></text>
<text class="a" transform="translate(0 234.50) scale(0.720 1.078)" x="700.9 723.3 749.1 770.8 793.9 822.0">HOLES<tspan font-size="17.8" dy="-3.47">)</tspan></text>
<text class="a" transform="translate(0 259.50) scale(0.720 1.078)" x="637.3 651.2 676.2 699.2 720.9"><tspan font-size="17.8" dy="-3.47">(</tspan><tspan dy="3.47">WHEN</tspan></text>
<text class="a" transform="translate(0 284.50) scale(0.720 1.078)" x="632.6 655.7 678.7 701.1 729.4 748.4 775.5 793.9 816.2 845.0">SPECIFIED<tspan font-size="17.8" dy="-3.47">)</tspan></text>
<text class="a" transform="translate(0 309.50) scale(0.720 1.048)" x="1565.7">W</text>
<text class="a" transform="translate(0 367.00) scale(0.720 1.048)" x="1569.5 1585.5 1595.5 1606.8 1609.5">N - W</text>
<text class="d" transform="translate(0 12.00) scale(0.890 1.048)" x="1125.6 1142.8 1161.2 1179.5">.188</text>
<text class="a" transform="translate(0 12.00) scale(0.720 1.048)" x="1503.5">X</text>
<text class="d" transform="translate(0 12.00) scale(0.890 1.048)" x="1253.8 1271.0 1289.4 1307.7">.188</text>
<text class="a" transform="translate(0 38.00) scale(0.720 1.078)" x="1366.7 1393.9 1416.9 1434.5 1462.2 1484.5 1503.8 1523.7 1549.5 1575.0 1592.9 1615.6 1638.2">X <tspan font-size="17.8" dy="-3.47">(</tspan><tspan dy="3.47">K</tspan><tspan font-size="17.8" dy="-3.47">)</tspan><tspan dy="3.47"> LG. KEY</tspan></text>
<text class="d" transform="translate(0 578.50) scale(0.890 1.048)" x="1223.3 1240.0 1257.7 1275.4 1293.1">.6250</text>
<text class="d" transform="translate(0 604.40) scale(0.890 1.066)" x="1223.3 1240.0 1257.7 1275.4 1293.1">.6245</text>
<text class="d" transform="translate(0 425.60) scale(0.890 1.069)" x="628.1 645.2 663.3 681.4 702.2 717.6 735.8">.500-14</text>
<text class="a" transform="translate(0 450.60) scale(0.720 1.114)" x="772.9 794.8 818.1 840.7 863.3 891.2 909.8">CONDUIT</text>
<text class="a" transform="translate(0 476.00) scale(0.720 1.108)" x="776.9 798.0 820.4 843.5 865.9 887.7">THREAD</text>
<text class="d" transform="translate(0 895.50) scale(0.890 1.063)" x="402.0 419.6 438.2">.04</text>
<text class="a" transform="translate(0 895.50) scale(0.720 1.063)" x="585.9 610.9 633.9 661.6 679.9 702.3 725.3 753.7 771.4 795.0 818.0">MAX END CAP</text>
<text class="a" transform="translate(0 920.75) scale(0.720 1.078)" x="493.8 516.2 545.9 565.0 588.0 610.5 632.9 661.2 678.3 702.1 730.4 748.8 770.6 795.6 817.4">OMITTED ON BOTH</text>
<text class="a" transform="translate(0 945.75) scale(0.720 1.078)" x="495.1 517.7 541.0 564.9 592.8 610.0 635.2 662.5 681.1 704.3 728.9 752.1 778.7 797.3 819.9 842.4 868.9">ENDS OF BALL BRG.</text>
<text class="a" transform="translate(0 970.75) scale(0.720 1.078)" x="494.2 517.2 541.7 562.1 585.2 608.3">MOTORS</text>
<text class="d" transform="translate(0 691.00) scale(0.890 1.048)" x="764.3 779.9 796.4">.37</text>
<text class="d" transform="translate(0 716.50) scale(0.890 1.048)" x="764.3 779.9 796.4">.34</text>
<text class="d" transform="translate(0 752.00) scale(0.890 1.048)" x="724.5 743.8 761.0 779.3 797.6">1.505</text>
<text class="d" transform="translate(0 777.50) scale(0.890 1.048)" x="724.5 743.8 761.0 779.3 797.6">1.495</text>
<text class="d" transform="translate(0 749.40) scale(0.890 1.090)" x="1082.2 1100.7 1117.2 1134.6">2.75</text>
<text class="d" transform="translate(0 786.20) scale(0.890 1.072)" x="1100.5 1120.0 1137.5 1156.0 1174.5">1.505</text>
<text class="d" transform="translate(0 811.80) scale(0.890 1.096)" x="1100.5 1120.0 1137.5 1156.0 1174.5">1.495</text>
<text class="d" transform="translate(0 847.50) scale(0.890 1.048)" x="921.7 940.8 957.7 975.7">4.31</text>
<text class="d" transform="translate(0 872.50) scale(0.890 1.048)" x="921.7 940.5 957.1 974.8">4.19</text>
<text class="a" transform="translate(0 925.00) scale(0.720 1.078)" x="1220.2 1242.9 1266.3 1293.7 1311.1 1339.2 1356.6 1378.7 1404.1 1425.5 1448.2">DRAIN HOLES</text>
<text class="a" transform="translate(0 950.50) scale(0.720 1.063)" x="1223.4 1240.7 1268.6 1286.6 1308.6 1331.8 1355.8 1378.4">IN SHELL</text>
<text class="a" transform="translate(0 976.00) scale(0.720 1.139)" x="1223.4 1238.2 1264.0 1287.8 1310.3 1338.8 1357.3 1380.4 1403.6 1426.1 1454.5 1473.7 1500.8 1519.3 1541.8 1570.6"><tspan font-size="17.8" dy="-3.47">(</tspan><tspan dy="3.47">WHEN SPECIFIED</tspan><tspan font-size="17.8" dy="-3.47">)</tspan></text>
<text class="a" transform="translate(0 776.70) scale(0.720 1.090)" x="1558.6 1582.4 1608.1 1625.2 1646.9 1670.6 1692.4">SLINGER</text>
<text class="a" transform="translate(0 802.00) scale(0.720 1.090)" x="1562.0 1576.2 1601.5 1624.7 1646.6"><tspan font-size="17.8" dy="-3.47">(</tspan><tspan dy="3.47">WHEN</tspan></text>
<text class="a" transform="translate(0 827.20) scale(0.720 1.090)" x="1558.6 1581.5 1604.5 1626.8 1655.0 1673.9 1700.9 1719.2 1741.5 1770.1">SPECIFIED<tspan font-size="17.8" dy="-3.47">)</tspan></text>
<text class="a" transform="translate(0 1010.30) scale(0.720 1.078)" x="73.4 104.6 127.8 146.4 174.3 192.8 220.7 238.6 263.9 285.7 309.0 331.5 355.4 378.0 401.2 425.1 453.0 470.9 494.1 518.0 545.9 565.1 586.3 615.5 634.1 657.3 679.9 708.4 727.0 750.9 778.1 795.3 819.2 847.8 871.0 888.9 917.4 936.0 959.2 981.8 1006.3 1028.9 1056.8 1075.3 1097.9 1121.1 1149.7 1168.2 1191.4 1214.7 1237.9 1259.1 1284.3 1308.9 1330.8 1355.9">W IS A CLEARANCE DUE TO VARIATION IN PARTS AND ASSEMBLY.</text>
</g>
</svg>
</body></html>
